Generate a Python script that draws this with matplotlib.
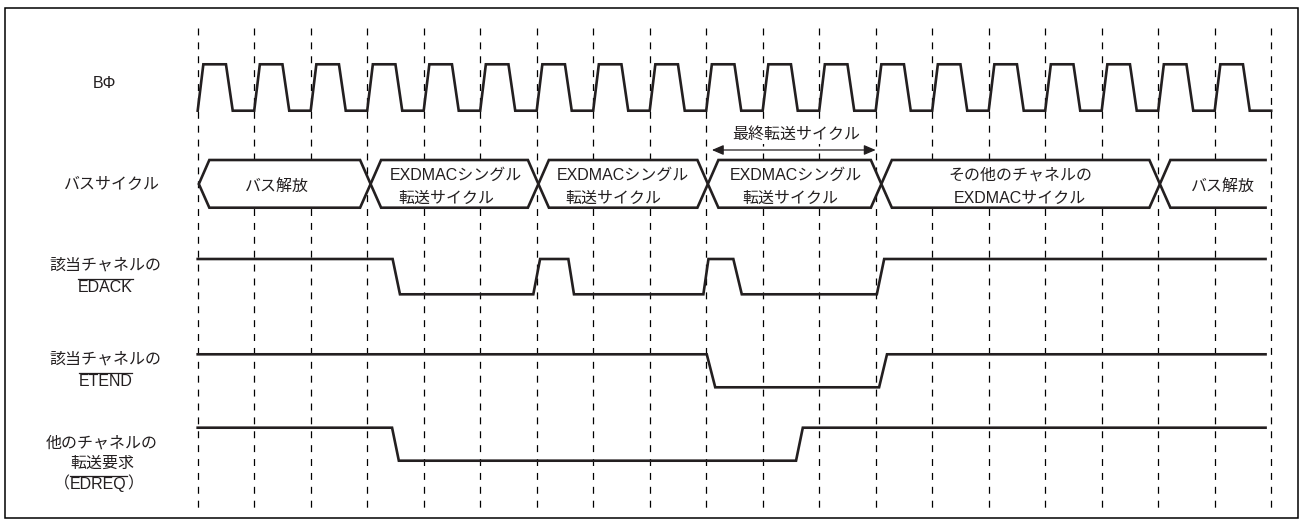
import matplotlib
matplotlib.use('Agg')
import matplotlib.pyplot as plt
from matplotlib.patches import Rectangle, FancyArrowPatch, Polygon

plt.rcParams['font.family'] = ['Liberation Sans', 'Noto Sans CJK JP', 'DejaVu Sans']
plt.rcParams['lines.scale_dashes'] = False

# ---------------- data (time in clock periods) ----------------
clock_cycles = 19
clock_shape_t = [0.0, 0.1, 0.5, 0.62, 1.0]
clock_shape_v = [0, 1, 1, 0, 0]
dash_edges = list(range(20))

bus_bounds = [0.02, 3.06, 6.03, 9.03, 12.1, 17.03, 18.9]
bus_labels = [
    ['バス解放'],
    ['EXDMACシングル', '転送サイクル'],
    ['EXDMACシングル', '転送サイクル'],
    ['EXDMACシングル', '転送サイクル'],
    ['その他のチャネルの', 'EXDMACサイクル'],
    ['バス解放'],
]

edack_t = [0, 3.45, 3.58, 5.94, 6.06, 6.56, 6.66, 8.95, 9.04, 9.48, 9.63, 12.02, 12.15, 18.9]
edack_v = [1, 1, 0, 0, 1, 1, 0, 0, 1, 1, 0, 0, 1, 1]
etend_t = [0, 9.01, 9.16, 12.06, 12.2, 18.9]
etend_v = [1, 1, 0, 0, 1, 1]
edreq_t = [0, 3.44, 3.56, 10.59, 10.71, 18.9]
edreq_v = [1, 1, 0, 0, 1, 1]

last_cycle_span = [9.1, 12.0]
last_cycle_label = '最終転送サイクル'

row_labels = ['BΦ', 'バスサイクル', '該当チャネルの', 'EDACK', '該当チャネルの', 'ETEND',
              '他のチャネルの', '転送要求', 'EDREQ']

# ---------------- layout ----------------
W, H = 1306, 526
X0, P = 197.7, 56.5           # pixel of t=0, pixels per clock period
def px(x):
    return (x - X0) / P

fig = plt.figure(figsize=(W / 100, H / 100), dpi=100)
ax = fig.add_axes([0, 0, 1, 1])
ax.set_xlim(px(0), px(W))
ax.set_ylim(H, 0)
ax.axis('off')

LW = 1.9
FS = 11.5
tc = '#231f20'

# frame
fig.patches.append(Rectangle((5 / W, 1 - 518 / H), (1298 - 5) / W, (518 - 8) / H,
                             transform=fig.transFigure, fill=False, lw=1.1, ec='black'))

# dashed grid
for e in dash_edges:
    ax.plot([e, e], [28, 511], color='black', lw=0.9, dashes=(5, 5), zorder=1)

# clock
clk_hi, clk_lo = 64.3, 110.7
ct, cv = [], []
for k in range(clock_cycles):
    for t, v in zip(clock_shape_t, clock_shape_v):
        ct.append(k + t)
        cv.append(clk_hi if v else clk_lo)
ax.plot(ct, cv, color=tc, lw=LW, solid_joinstyle='miter', zorder=3)

# bus cycle hexagons (white filled, hiding the grid)
b_top, b_bot, b_mid = 160, 207.7, 184
hw = 10.5 / P
for i in range(len(bus_bounds) - 1):
    a, b = bus_bounds[i], bus_bounds[i + 1]
    if i < len(bus_bounds) - 2:
        pts = [(a, b_mid), (a + hw, b_top), (b - hw, b_top), (b, b_mid), (b - hw, b_bot), (a + hw, b_bot)]
        ax.add_patch(Polygon(pts, closed=True, fc='white', ec=tc, lw=LW, joinstyle='miter', zorder=2))
    else:
        pts = [(b, b_top), (a + hw, b_top), (a, b_mid), (a + hw, b_bot), (b, b_bot)]
        ax.add_patch(Polygon(pts, closed=True, fc='white', ec='none', zorder=2))
        xs, ys = zip(*pts)
        ax.plot(xs, ys, color=tc, lw=LW, solid_joinstyle='miter', zorder=3)

label_pos = [
    [(276.7, 186)],
    [(455.8, 175), (446.0, 198)],
    [(623.0, 175), (613.0, 198)],
    [(795.8, 175), (790.5, 198)],
    [(1020.0, 175), (1020.0, 198)],
    [(1223.0, 186)],
]
for labs, poss in zip(bus_labels, label_pos):
    for lab, (x, y) in zip(labs, poss):
        ax.text(px(x), y, lab, ha='center', va='center', fontsize=FS, color=tc, zorder=4)

# last transfer cycle arrow
ax.add_patch(FancyArrowPatch((last_cycle_span[0], 150), (last_cycle_span[1], 150),
                             arrowstyle='<|-|>,head_length=7,head_width=3', mutation_scale=1,
                             color=tc, lw=0.9, shrinkA=0, shrinkB=0, zorder=3))
ax.text(sum(last_cycle_span) / 2 + 0.05, 134, last_cycle_label, ha='center', va='center',
        fontsize=FS, color=tc, zorder=4,
        bbox=dict(boxstyle='square,pad=0.15', fc='white', ec='none'))

# signals
def sig(ts, vs, hi, lo):
    ax.plot(ts, [hi if v else lo for v in vs], color=tc, lw=LW, solid_joinstyle='miter', zorder=3)

sig(edack_t, edack_v, 259.0, 294.3)
sig(etend_t, etend_v, 354.3, 387.3)
sig(edreq_t, edreq_v, 427.7, 460.7)

# left labels
ax.text(px(104), 84, row_labels[0], ha='center', va='center', fontsize=FS, color=tc)
ax.text(px(112), 184, row_labels[1], ha='center', va='center', fontsize=FS, color=tc)
ax.text(px(105), 265, row_labels[2], ha='center', va='center', fontsize=FS, color=tc)
t_edack = ax.text(px(105.5), 287, row_labels[3], ha='center', va='center', fontsize=FS, color=tc)
ax.text(px(105), 359, row_labels[4], ha='center', va='center', fontsize=FS, color=tc)
t_etend = ax.text(px(105.5), 381, row_labels[5], ha='center', va='center', fontsize=FS, color=tc)
ax.text(px(102), 443, row_labels[6], ha='center', va='center', fontsize=FS, color=tc)
ax.text(px(102), 463, row_labels[7], ha='center', va='center', fontsize=FS, color=tc)
t_edreq = ax.text(px(98.5), 484, row_labels[8], ha='center', va='center', fontsize=FS, color=tc)
ax.annotate('（', xy=(0, 0.5), xycoords=t_edreq, ha='right', va='center', fontsize=FS, color=tc)
ax.annotate('）', xy=(1, 0.5), xycoords=t_edreq, ha='left', va='center', fontsize=FS, color=tc)

fig.canvas.draw()
inv = ax.transData.inverted()
for t in (t_edack, t_etend, t_edreq):
    bb = t.get_window_extent()
    (x1, y1) = inv.transform((bb.x0, bb.y1 + 1))
    (x2, _) = inv.transform((bb.x1, bb.y1 + 1))
    ax.plot([x1, x2], [y1, y1], color=tc, lw=0.9)

fig.savefig('out.png', dpi=100)
